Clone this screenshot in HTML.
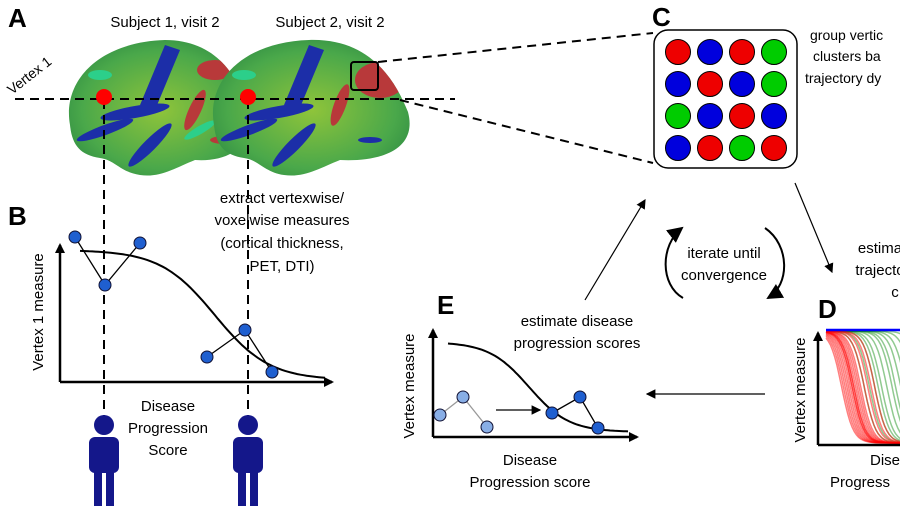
<!DOCTYPE html>
<html><head><meta charset="utf-8"><style>
body{margin:0;background:#fff;}
svg{display:block;font-family:"Liberation Sans",sans-serif;}
</style></head><body>
<svg id="fig" width="900" height="517" viewBox="0 0 900 517">
<defs>
<radialGradient id="bg" cx="0.5" cy="0.5" r="0.65"><stop offset="0" stop-color="#8fc43a"/><stop offset="0.6" stop-color="#4aa84a"/><stop offset="1" stop-color="#1f7a3e"/></radialGradient>
<marker id="ah" markerWidth="8" markerHeight="8" refX="7" refY="4" orient="auto"><path d="M0,0 L8,4 L0,8 z" fill="#000"/></marker>
<marker id="big" markerWidth="10" markerHeight="10" refX="8" refY="5" orient="auto" markerUnits="userSpaceOnUse"><path d="M0,0 L10,5 L0,10 z" fill="#000"/></marker>
<clipPath id="b1"><path d="M70,125 C62,80 100,42 165,40 C215,40 240,75 248,115 C252,150 225,162 195,160 C175,168 160,178 140,175 C120,172 115,160 100,158 C80,155 72,145 70,125Z"/></clipPath>
<clipPath id="b2"><path d="M214,125 C206,80 244,42 309,40 C370,38 395,80 408,112 C418,150 380,162 340,160 C320,168 304,178 284,175 C264,172 259,160 244,158 C224,155 216,145 214,125Z"/></clipPath>
</defs>

<!-- Panel A -->
<text x="8" y="27" font-size="26" font-weight="bold">A</text>
<text x="165" y="27" font-size="15" text-anchor="middle">Subject 1, visit 2</text>
<text x="330" y="27" font-size="15" text-anchor="middle">Subject 2, visit 2</text>
<text x="0" y="0" font-size="14" transform="translate(12,95) rotate(-38)">Vertex 1</text>

<g id="brain1" clip-path="url(#b1)">
<rect x="60" y="35" width="200" height="150" fill="url(#bg)"/>
<path d="M165,45 L180,50 L155,110 L140,105Z" fill="#1c2ea8"/>
<ellipse cx="135" cy="112" rx="35" ry="6" fill="#1c2ea8" transform="rotate(-10 135 112)"/>
<ellipse cx="105" cy="130" rx="30" ry="5" fill="#1c2ea8" transform="rotate(-20 105 130)"/>
<ellipse cx="150" cy="145" rx="30" ry="6" fill="#1c2ea8" transform="rotate(-45 150 145)"/>
<ellipse cx="215" cy="70" rx="18" ry="10" fill="#b8393a"/>
<ellipse cx="195" cy="110" rx="6" ry="22" fill="#b8393a" transform="rotate(25 195 110)"/>
<ellipse cx="225" cy="140" rx="15" ry="4" fill="#b8393a"/>
<ellipse cx="100" cy="75" rx="12" ry="5" fill="#2ccf8a"/>
<ellipse cx="200" cy="130" rx="18" ry="4" fill="#2ccf8a" transform="rotate(-30 200 130)"/>
</g>
<g id="brain2" clip-path="url(#b2)">
<rect x="204" y="35" width="215" height="150" fill="url(#bg)"/>
<path d="M309,45 L324,50 L299,110 L284,105Z" fill="#1c2ea8"/>
<ellipse cx="279" cy="112" rx="35" ry="6" fill="#1c2ea8" transform="rotate(-10 279 112)"/>
<ellipse cx="249" cy="130" rx="30" ry="5" fill="#1c2ea8" transform="rotate(-20 249 130)"/>
<ellipse cx="294" cy="145" rx="30" ry="6" fill="#1c2ea8" transform="rotate(-45 294 145)"/>
<ellipse cx="380" cy="80" rx="25" ry="18" fill="#b8393a"/>
<ellipse cx="340" cy="105" rx="6" ry="22" fill="#b8393a" transform="rotate(20 340 105)"/>
<ellipse cx="370" cy="140" rx="12" ry="3" fill="#1c2ea8"/>
<ellipse cx="244" cy="75" rx="12" ry="5" fill="#2ccf8a"/>
</g>
<rect x="351" y="62" width="27" height="28" rx="3" fill="none" stroke="#000" stroke-width="2"/>
<g stroke="#000" stroke-width="2" stroke-dasharray="9,6" fill="none">
<line x1="15" y1="99" x2="455" y2="99"/>
<line x1="378" y1="62" x2="653" y2="33"/>
<line x1="400" y1="100" x2="653" y2="163"/>
<line x1="104" y1="100" x2="104" y2="420"/>
<line x1="248" y1="100" x2="248" y2="420"/>
</g>
<circle cx="104" cy="97" r="8" fill="#f00"/>
<circle cx="248" cy="97" r="8" fill="#f00"/>

<!-- Panel C -->
<text x="652" y="26" font-size="26" font-weight="bold">C</text>
<rect x="654" y="30" width="143" height="138" rx="14" fill="#fff" stroke="#000" stroke-width="1.5"/>
<g id="grid"></g>
<g font-size="14">
<text x="810" y="40">group vertic</text><text x="813" y="61">clusters ba</text><text x="805" y="83">trajectory dy</text></g>

<!-- Panel B -->
<text x="8" y="225" font-size="26" font-weight="bold">B</text>
<g font-size="15" text-anchor="middle">
<text x="282" y="203">extract vertexwise/</text><text x="282" y="225">voxelwise measures</text><text x="282" y="248">(cortical thickness,</text><text x="282" y="271">PET, DTI)</text></g>
<line x1="60" y1="382" x2="60" y2="245" stroke="#000" stroke-width="2.5" marker-end="url(#big)"/>
<line x1="60" y1="382" x2="332" y2="382" stroke="#000" stroke-width="2.5" marker-end="url(#big)"/>
<text transform="translate(43,312) rotate(-90)" font-size="15" text-anchor="middle">Vertex 1 measure</text>
<g font-size="15" text-anchor="middle"><text x="168" y="411">Disease</text><text x="168" y="433">Progression</text><text x="168" y="455">Score</text></g>
<path id="bcurve" fill="none" stroke="#000" stroke-width="2"/>
<g id="bpts"></g>

<!-- persons -->
<g fill="#14178a">
<g transform="translate(104,0)"><circle cx="0" cy="425" r="10"/><rect x="-15" y="437" width="30" height="36" rx="6"/><rect x="-10" y="468" width="8" height="38"/><rect x="2" y="468" width="8" height="38"/></g>
<g transform="translate(248,0)"><circle cx="0" cy="425" r="10"/><rect x="-15" y="437" width="30" height="36" rx="6"/><rect x="-10" y="468" width="8" height="38"/><rect x="2" y="468" width="8" height="38"/></g>
</g>

<!-- flow arrows -->
<line x1="585" y1="300" x2="645" y2="200" stroke="#000" stroke-width="1.2" marker-end="url(#ah)"/>
<line x1="795" y1="183" x2="832" y2="272" stroke="#000" stroke-width="1.2" marker-end="url(#ah)"/>
<line x1="765" y1="394" x2="647" y2="394" stroke="#000" stroke-width="1.2" marker-end="url(#ah)"/>
<g font-size="15" text-anchor="middle"><text x="724" y="258">iterate until</text><text x="724" y="280">convergence</text></g>
<path d="M683,298 C660,285 660,245 682,228" fill="none" stroke="#000" stroke-width="2" marker-end="url(#ah)"/>
<path d="M765,228 C790,245 790,285 768,298" fill="none" stroke="#000" stroke-width="2" marker-end="url(#ah)"/>
<g font-size="15" text-anchor="middle"><text x="880" y="253">estima</text><text x="880" y="275">trajecto</text><text x="895" y="297">c</text></g>

<!-- Panel E -->
<text x="437" y="314" font-size="26" font-weight="bold">E</text>
<g font-size="15" text-anchor="middle"><text x="577" y="326">estimate disease</text><text x="577" y="348">progression scores</text></g>
<line x1="433" y1="437" x2="433" y2="330" stroke="#000" stroke-width="2.5" marker-end="url(#big)"/>
<line x1="433" y1="437" x2="637" y2="437" stroke="#000" stroke-width="2.5" marker-end="url(#big)"/>
<text transform="translate(414,386) rotate(-90)" font-size="15" text-anchor="middle">Vertex measure</text>
<g font-size="15" text-anchor="middle"><text x="530" y="465">Disease</text><text x="530" y="487">Progression score</text></g>
<path id="ecurve" fill="none" stroke="#000" stroke-width="2"/>
<line x1="496" y1="410" x2="540" y2="410" stroke="#000" stroke-width="1.2" marker-end="url(#ah)"/>
<g id="epts"></g>

<!-- Panel D -->
<text x="818" y="318" font-size="26" font-weight="bold">D</text>
<text transform="translate(805,390) rotate(-90)" font-size="15" text-anchor="middle">Vertex measure</text>
<g id="dcurves"></g>
<line x1="826" y1="330" x2="900" y2="330" stroke="#00f" stroke-width="2.5"/>
<line x1="818" y1="445" x2="818" y2="333" stroke="#000" stroke-width="2.5" marker-end="url(#big)"/>
<line x1="818" y1="445" x2="900" y2="445" stroke="#000" stroke-width="2.5"/>
<g font-size="15"><text x="870" y="465">Dise</text><text x="830" y="487">Progress</text></g>
</svg>
<script>
const gridColors = ["#e00","#00d","#e00","#0c0","#00d","#e00","#00d","#0c0","#0c0","#00d","#e00","#00d","#00d","#e00","#0c0","#e00"];
const bPointsS1 = [[75,237],[105,285],[140,243]];
const bPointsS2 = [[207,357],[245,330],[272,372]];
const eOldPoints = [[440,415],[463,397],[487,427]];
const eNewPoints = [[552,413],[580,397],[598,428]];
const dRedMid = [0.09,0.1,0.11,0.12,0.13,0.14,0.15,0.15,0.16,0.16,0.17,0.18,0.19,0.2,0.22,0.24,0.26,0.28];
const dGreenMid = [0.22,0.25,0.28,0.3,0.32,0.35,0.38,0.4,0.43,0.46,0.5,0.55];
const NS="http://www.w3.org/2000/svg";
function mk(tag,attrs,parent){const e=document.createElementNS(NS,tag);for(const k in attrs)e.setAttribute(k,attrs[k]);parent.appendChild(e);return e;}
const grid=document.getElementById('grid');
gridColors.forEach((c,i)=>{
  const d=mk('circle',{cx:678+(i%4)*32,cy:52+Math.floor(i/4)*32,r:12.5,fill:c,stroke:'#000','stroke-width':1},grid);
  
  
});
function sig(x0,x1,yTop,yBot,mid,k){let p='';for(let i=0;i<=80;i++){const x=x0+(x1-x0)*i/80;const t=(x-x0)/(x1-x0);const y=yTop+(yBot-yTop)/(1+Math.exp(-k*(t-mid)));p+=(i?'L':'M')+x.toFixed(1)+','+y.toFixed(1);}return p;}
document.getElementById('bcurve').setAttribute('d',sig(80,325,250,380,0.55,9));
document.getElementById('ecurve').setAttribute('d',sig(448,628,342,432,0.45,9));
function pts(arr,g,fill,line){
  let p='';arr.forEach((q,i)=>p+=(i?'L':'M')+q[0]+','+q[1]);
  mk('path',{d:p,fill:'none',stroke:line,'stroke-width':1.3},g);
  arr.forEach(q=>{const c=mk('circle',{cx:q[0],cy:q[1],r:6,fill:fill,stroke:'#113',"stroke-width":1},g);
  
  });
}
const bp=document.getElementById('bpts');pts(bPointsS1,bp,'#1f5fd0','#000');pts(bPointsS2,bp,'#1f5fd0','#000');
const ep=document.getElementById('epts');pts(eOldPoints,ep,'#88aee6','#999');pts(eNewPoints,ep,'#1f5fd0','#000');
const dg=document.getElementById('dcurves');
function dcurve(mid,col,op){const p=mk('path',{d:sig(826,1000,331,443,mid,30),fill:'none',stroke:col,'stroke-width':1.5,'stroke-opacity':op},dg);
  
  }
dGreenMid.forEach(m=>dcurve(m,'#0a8a0a',0.45));
dRedMid.forEach(m=>dcurve(m,'#f00',0.5));
</script>
</body></html>
